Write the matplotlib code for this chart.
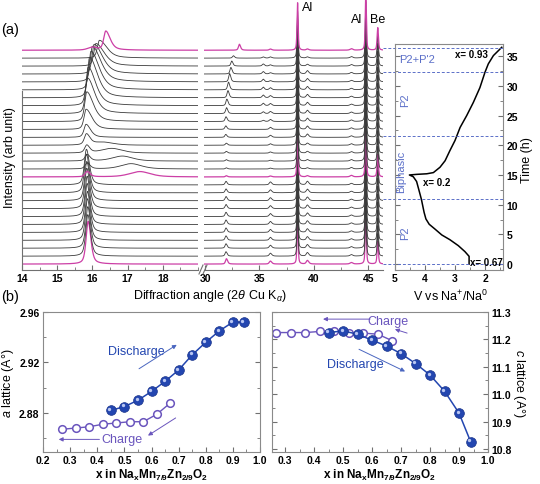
import numpy as np
import matplotlib
matplotlib.use('Agg')
import matplotlib.pyplot as plt
import matplotlib.ticker as ticker
from matplotlib.lines import Line2D
from matplotlib.transforms import offset_copy

plt.rcParams['font.family'] = ['Liberation Sans', 'DejaVu Sans']
plt.rcParams['mathtext.fontset'] = 'custom'
plt.rcParams['mathtext.rm'] = 'Liberation Sans'
plt.rcParams['mathtext.it'] = 'Liberation Sans:italic'
plt.rcParams['mathtext.bf'] = 'Liberation Sans:bold'

# ---- (a) in-situ XRD scans, offset = time of scan (h)
scan_time = [0.0, 1.33, 2.67, 4.0, 5.33, 6.67, 8.0, 9.33, 10.67, 12.0, 13.33, 14.67, 16.0, 17.33,
             18.67, 20.0, 21.33, 22.67, 24.0, 25.33, 26.67, 28.0, 29.33, 30.67, 32.0, 33.33, 34.67, 36.0]
pink_scans = [0, 11, 27]

# main (002) peak near 16 deg
p16_pos = [15.88, 15.87, 15.87, 15.86, 15.86, 15.85, 15.85, 15.84, 15.84, 15.83, 15.83, 15.85, 15.85, 15.85,
           15.84, 15.83, 15.82, 15.82, 15.84, 15.86, 15.88, 15.92, 15.96, 16.0, 16.05, 16.1, 16.2, 16.38]
p16_h = [7.2, 7.0, 7.0, 7.0, 6.9, 6.9, 6.8, 6.8, 6.6, 6.5, 6.0, 0.9, 1.0, 1.1,
         1.3, 1.8, 2.2, 3.4, 5.0, 6.0, 6.5, 6.8, 6.5, 6.0, 5.0, 3.8, 3.0, 3.2]
p16_wr = [0.09, 0.09, 0.09, 0.09, 0.09, 0.09, 0.09, 0.1, 0.1, 0.1, 0.1, 0.1, 0.1, 0.1,
          0.1, 0.12, 0.15, 0.2, 0.22, 0.24, 0.25, 0.26, 0.27, 0.28, 0.28, 0.28, 0.25, 0.15]
# broad bump in the biphasic region
bump_pos = [17.0] * 11 + [17.35, 17.1, 16.85, 16.55, 16.3] + [17.0] * 12
bump_h = [0.0] * 11 + [0.9, 0.9, 0.85, 0.8, 0.5] + [0.0] * 12

# high angle peaks
p32_pos = [31.96, 31.92, 31.92, 31.92, 31.92, 31.92, 31.92, 31.92, 31.92, 31.92, 31.92, 31.95, 31.95, 31.95,
           31.95, 31.95, 31.9, 31.9, 31.92, 31.97, 32.0, 32.1, 32.15, 32.25, 32.37, 32.45, 32.6, 33.15]
p32_h = [0.9, 0.75, 0.75, 0.75, 0.75, 0.75, 0.72, 0.7, 0.7, 0.65, 0.6, 0.2, 0.2, 0.25,
         0.3, 0.35, 0.5, 0.6, 0.8, 1.0, 1.1, 1.2, 1.3, 1.4, 1.1, 0.85, 0.4, 1.0]
p353_h = [0.0] * 18 + [0.2, 0.3, 0.4, 0.45, 0.45, 0.45, 0.4, 0.35, 0.2, 0.0]
p36_h = [0.5] * 11 + [0.15, 0.15, 0.15, 0.2, 0.25] + [0.35] * 7 + [0.2] * 5
p394_h = [0.6] * 11 + [0.2, 0.2, 0.25, 0.3, 0.35] + [0.55] * 9 + [0.3, 0.2, 0.2]
p435_h = [0.25] * 28
al_pos = [38.5, 44.77]
al_h = [8.0, 9.5]
be_pos = 45.87
be_h = 3.8

# ---- galvanostatic curve
volt = [2.53, 2.53, 2.67, 2.89, 3.17, 3.44, 3.67, 3.86, 3.97, 4.03, 4.12, 4.21, 4.28, 4.39, 4.52,
        4.28, 3.94, 3.72, 3.50, 3.33, 3.17, 3.00, 2.83, 2.61, 2.39, 2.17, 2.00, 1.89, 1.72, 1.56, 1.44]
time_h = [0.0, 1.3, 2.1, 3.1, 4.1, 4.9, 5.9, 6.7, 7.6, 8.7, 10.9, 12.6, 13.9, 14.7, 15.0,
          15.1, 15.2, 15.4, 16.3, 17.4, 19.1, 20.8, 23.0, 25.0, 27.2, 29.7, 32.3, 33.7, 35.1, 35.9, 36.5]
phase_t = [0.0, 10.9, 21.6, 32.3, 36.4]

# ---- (b) lattice parameters
x_dis = [0.45, 0.5, 0.55, 0.6, 0.65, 0.7, 0.75, 0.8, 0.85, 0.9, 0.94]
a_dis = [2.882, 2.885, 2.890, 2.897, 2.905, 2.914, 2.926, 2.936, 2.945, 2.952, 2.952]
c_dis = [11.225, 11.231, 11.219, 11.197, 11.176, 11.148, 11.112, 11.070, 11.011, 10.931, 10.827]
x_ch = [0.27, 0.32, 0.37, 0.42, 0.47, 0.52, 0.57, 0.62, 0.67]
a_ch = [2.867, 2.868, 2.869, 2.871, 2.872, 2.873, 2.873, 2.879, 2.888]
c_ch = [11.225, 11.225, 11.225, 11.229, 11.229, 11.225, 11.223, 11.219, 11.195]

BLACK = '#3a3a3a'
PINK = '#cc3fa6'
DASH = '#5b6fc8'
BLUE = '#2346b0'
PURPLE = '#6a55bd'
FRAME = '#707070'


def profile(x, x0, h, wl, wr):
  w = np.where(x < x0, wl, wr)
  u = (x - x0) / w
  return h * (0.55 / (1 + u ** 2) + 0.45 * np.exp(-0.693 * u ** 2))


def style_ticks(ax, size=7.5):
  ax.tick_params(which='both', direction='in', colors=FRAME, labelcolor='black', labelsize=size, pad=2.5)
  ax.tick_params(which='major', length=3.5)
  ax.tick_params(which='minor', length=2)
  for lab in ax.get_xticklabels() + ax.get_yticklabels():
    lab.set_fontweight('bold')


fig = plt.figure(figsize=(5.4, 4.85), dpi=100)
W, H = 540.0, 485.0

ax1 = fig.add_axes([22 / W, 214 / H, 176 / W, 271 / H])
ax2 = fig.add_axes([204 / W, 214 / H, 179 / W, 271 / H])
ax3 = fig.add_axes([395 / W, 214 / H, 108 / W, 226 / H])

xl = np.linspace(14, 19, 1500)
xr = np.linspace(29.9, 46.35, 5000)
for i, t in enumerate(scan_time):
  col = PINK if i in pink_scans else BLACK
  lw = 0.9 if i in pink_scans else 0.6
  yl = profile(xl, p16_pos[i], p16_h[i], 0.07, p16_wr[i]) + profile(xl, bump_pos[i], bump_h[i], 0.35, 0.35)
  if i == 27:
    yl = yl + profile(xl, 16.0, 0.5, 0.15, 0.15)
  yr = (profile(xr, p32_pos[i], p32_h[i], 0.1, 0.13) + profile(xr, 35.35, p353_h[i], 0.12, 0.12)
        + profile(xr, 36.0, p36_h[i], 0.12, 0.15) + profile(xr, 39.4, p394_h[i], 0.12, 0.15)
        + profile(xr, 43.45, p435_h[i], 0.15, 0.15) + profile(xr, be_pos, be_h, 0.07, 0.07))
  for p, h in zip(al_pos, al_h):
    yr = yr + profile(xr, p, h, 0.06, 0.06)
  ax1.plot(xl, t + yl, color=col, lw=lw)
  ax2.plot(xr, t + yr, color=col, lw=lw)

for ax in (ax1, ax2):
  ax.set_ylim(-1.0, -1.0 + 271 / 5.94)
  ax.set_yticks([])
  for s in ('top', 'right'):
    ax.spines[s].set_visible(False)
  ax.spines['bottom'].set_color(FRAME)
ax2.spines['left'].set_visible(False)
ax1.spines['left'].set_color(FRAME)
ax1.spines['left'].set_bounds(-1.0, 29.1)
ax1.set_xlim(14, 19)
ax1.xaxis.set_major_locator(ticker.MultipleLocator(1))
ax1.xaxis.set_minor_locator(ticker.MultipleLocator(0.5))
ax2.set_xlim(29.9, 46.35)
ax2.xaxis.set_major_locator(ticker.MultipleLocator(5))
ax2.xaxis.set_minor_locator(ticker.MultipleLocator(2.5))
ax1.set_xticks([14, 15, 16, 17, 18])
style_ticks(ax1)
style_ticks(ax2)

ax2.text(39.4, 43.3, 'Al', fontsize=9, ha='center', va='center')
ax2.text(43.9, 41.3, 'Al', fontsize=9, ha='center', va='center')
ax2.text(45.85, 41.3, 'Be', fontsize=9, ha='center', va='center')

# axis break marks
for x0 in (199, 203):
  fig.add_artist(Line2D([x0 / W, (x0 + 4) / W], [(485 - 275) / H, (485 - 266) / H],
                        color=FRAME, lw=0.8))

# galvanostatic panel
ax3.plot(volt, time_h, color='black', lw=1.1)
ax3.set_xlim(5, 1.4)
ax3.set_ylim(-1.0, 37.05)
ax3.yaxis.tick_right()
ax3.yaxis.set_label_position('right')
ax3.xaxis.set_major_locator(ticker.MultipleLocator(1))
ax3.xaxis.set_minor_locator(ticker.MultipleLocator(0.5))
ax3.yaxis.set_major_locator(ticker.MultipleLocator(5))
ax3.yaxis.set_minor_locator(ticker.MultipleLocator(2.5))
ax3.tick_params(which='both', left=True, right=True)
for s in ax3.spines.values():
  s.set_color('#8a8a8a')
style_ticks(ax3)
for t in phase_t:
  ax3.axhline(t, xmin=-0.11, xmax=1.0, color=DASH, lw=0.7, ls=(0, (3, 2)), clip_on=False)
ax3.text(4.28, 34.6, "P2+P'2", color=DASH, fontsize=8, ha='center', va='center')
ax3.text(4.67, 27.8, 'P2', color=DASH, fontsize=8, ha='center', va='center', rotation=90)
ax3.text(4.78, 15.7, 'Biphasic', color=DASH, fontsize=8, ha='center', va='center', rotation=90)
ax3.text(4.67, 5.3, 'P2', color=DASH, fontsize=8, ha='center', va='center', rotation=90)
ax3.text(2.44, 35.3, 'x= 0.93', fontsize=7, fontweight='bold', ha='center', va='center')
ax3.text(3.61, 13.9, 'x= 0.2', fontsize=7, fontweight='bold', ha='center', va='center')
ax3.text(1.94, 0.3, 'x= 0.67', fontsize=7, fontweight='bold', ha='center', va='center')

fig.text(10 / W, 1 - 30 / H, '(a)', fontsize=10.5, ha='center', va='center')
fig.text(10 / W, 1 - 158 / H, 'Intensity (arb unit)', fontsize=9, rotation=90, ha='center', va='center')
fig.text(210 / W, 1 - 296 / H, r'Diffraction angle (2$\theta$ Cu K$_\alpha$)', fontsize=9,
         ha='center', va='center')
fig.text(451 / W, 1 - 296 / H, r'V vs Na$^{+}$/Na$^{0}$', fontsize=9, ha='center', va='center')
fig.text(527 / W, 1 - 160 / H, 'Time (h)', fontsize=9, rotation=90, ha='center', va='center')

# ---- (b)
axa = fig.add_axes([43 / W, 32 / H, 217 / W, 140 / H])
axc = fig.add_axes([272 / W, 32 / H, 216 / W, 140 / H])
fig.text(10 / W, 1 - 297 / H, '(b)', fontsize=10.5, ha='center', va='center')


def draw_lattice(ax, ych, ydis):
  ax.plot(x_ch, ych, '-', color=PURPLE, lw=1.0, marker='o', ms=5.5, mfc='white',
          mec=PURPLE, mew=1.1)
  ax.plot(x_dis, ydis, '-', color=BLUE, lw=1.1, marker='o', ms=7, mfc=BLUE, mec='#1a348a', mew=0.5)
  hl = offset_copy(ax.transData, fig=fig, x=-1.0, y=1.0, units='points')
  ax.plot(x_dis, ydis, 'o', ms=2.4, color='#b9c6f2', mec='none', transform=hl)
  for s in ax.spines.values():
    s.set_color('#8a8a8a')
  ax.tick_params(which='both', left=True, right=True)
  ax.xaxis.set_major_locator(ticker.MultipleLocator(0.1))
  ax.xaxis.set_minor_locator(ticker.MultipleLocator(0.05))


def arrow(ax, tail, head, col):
  ax.annotate('', xy=head, xytext=tail,
              arrowprops=dict(arrowstyle='-|>', color=col, lw=0.7, mutation_scale=6, shrinkA=0, shrinkB=0))


xlab = r'x in Na$_\mathbf{x}$Mn$_\mathbf{7/9}$Zn$_\mathbf{2/9}$O$_\mathbf{2}$'

draw_lattice(axa, a_ch, a_dis)
axa.set_xlim(0.2, 1.0)
axa.set_ylim(2.849, 2.96)
axa.yaxis.set_major_locator(ticker.FixedLocator([2.88, 2.92, 2.96]))
axa.yaxis.set_minor_locator(ticker.MultipleLocator(0.02))
axa.yaxis.set_major_formatter(ticker.FormatStrFormatter('%.2f'))
axa.xaxis.set_major_formatter(ticker.FormatStrFormatter('%.1f'))
style_ticks(axa)
axa.set_xlabel(xlab, fontsize=8.5, fontweight='bold', labelpad=1)
axa.set_ylabel(r'$a$ lattice (A°)', fontsize=9, labelpad=2)
axa.text(0.543, 2.929, 'Discharge', color=BLUE, fontsize=9, ha='center', va='center')
arrow(axa, (0.554, 2.915), (0.693, 2.934), '#4a66c0')
axa.text(0.492, 2.859, 'Charge', color=PURPLE, fontsize=9, ha='center', va='center')
arrow(axa, (0.689, 2.876), (0.587, 2.862), PURPLE)
arrow(axa, (0.408, 2.859), (0.258, 2.859), PURPLE)

draw_lattice(axc, c_ch, c_dis)
axc.set_xlim(0.255, 1.0)
axc.set_ylim(10.789, 11.3)
axc.yaxis.tick_right()
axc.yaxis.set_label_position('right')
axc.tick_params(which='both', left=True, right=True)
axc.yaxis.set_major_locator(ticker.MultipleLocator(0.1))
axc.yaxis.set_minor_locator(ticker.MultipleLocator(0.05))
axc.yaxis.set_major_formatter(ticker.FormatStrFormatter('%.1f'))
axc.xaxis.set_major_formatter(ticker.FormatStrFormatter('%.1f'))
style_ticks(axc)
axc.set_xlabel(xlab, fontsize=8.5, fontweight='bold', labelpad=1)
axc.set_ylabel(r'$c$ lattice (A°)', fontsize=9, rotation=270, labelpad=11)
axc.text(0.655, 11.267, 'Charge', color=PURPLE, fontsize=9, ha='center', va='center')
arrow(axc, (0.593, 11.274), (0.431, 11.274), PURPLE)
arrow(axc, (0.721, 11.223), (0.679, 11.237), PURPLE)
axc.text(0.541, 11.109, 'Discharge', color=BLUE, fontsize=9, ha='center', va='center')
arrow(axc, (0.555, 11.164), (0.714, 11.083), '#4a66c0')

plt.savefig('out.png', dpi=100)
